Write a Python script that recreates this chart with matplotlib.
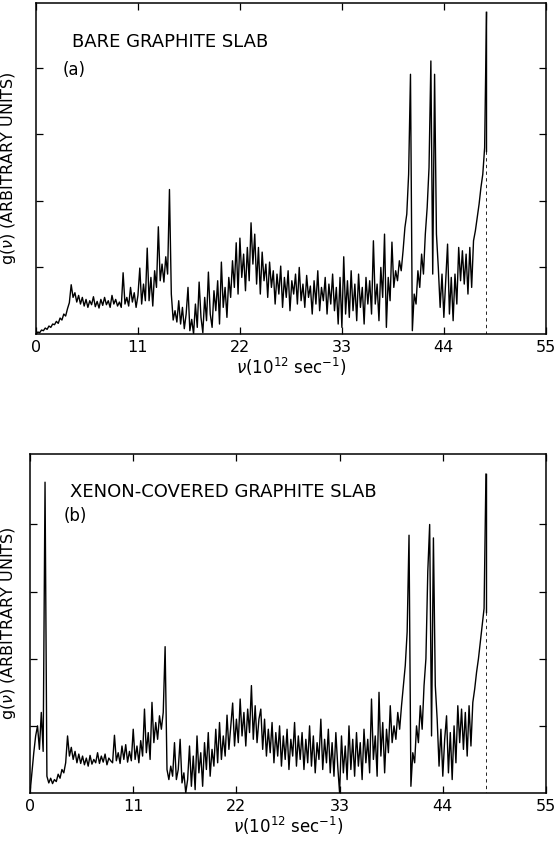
import numpy as np
import matplotlib
matplotlib.use("Agg")
import matplotlib.pyplot as plt

# frequency grid (10^12 sec^-1), step 0.2 from 0 to 48.6
nu_start, nu_stop, nu_step = 0.0, 48.6, 0.2

# panel (a) bare graphite slab, g(nu) in tick units
g_bare = [
    0.00, 0.03, 0.02, 0.06, 0.05,
    0.09, 0.07, 0.12, 0.10, 0.15,
    0.14, 0.19, 0.16, 0.24, 0.21,
    0.30, 0.27, 0.38, 0.47, 0.74,
    0.55, 0.62, 0.48, 0.58, 0.45,
    0.55, 0.42, 0.52, 0.40, 0.50,
    0.44, 0.56, 0.41, 0.49, 0.39,
    0.52, 0.43, 0.55, 0.44, 0.50,
    0.40, 0.58, 0.45, 0.52, 0.42,
    0.48, 0.40, 0.92, 0.45, 0.55,
    0.42, 0.70, 0.48, 0.62, 0.40,
    0.58, 0.99, 0.45, 0.75, 0.50,
    1.29, 0.50, 0.85, 0.42, 0.95,
    0.70, 1.61, 0.80, 1.05, 0.78,
    1.16, 0.90, 2.17, 0.60, 0.21,
    0.35, 0.18, 0.50, 0.15, 0.40,
    0.08, 0.30, 0.70, 0.05, 0.22,
    0.00, 0.45, 0.10, 0.78, 0.25,
    0.02, 0.55, 0.20, 0.93, 0.30,
    0.10, 0.65, 0.35, 0.80, 0.15,
    1.08, 0.40, 0.70, 0.25, 0.85,
    0.55, 1.10, 0.70, 1.37, 0.60,
    1.44, 0.85, 1.20, 0.65, 1.30,
    0.80, 1.67, 1.05, 1.50, 0.75,
    1.30, 0.60, 1.23, 0.80, 1.05,
    0.55, 1.08, 0.70, 0.95, 0.45,
    0.90, 0.60, 1.02, 0.40, 0.85,
    0.55, 0.95, 0.35, 0.80, 0.60,
    0.90, 0.45, 1.00, 0.50, 0.75,
    0.40, 0.88, 0.55, 0.72, 0.30,
    0.80, 0.45, 0.95, 0.35, 0.70,
    0.50, 0.85, 0.30, 0.75, 0.45,
    0.90, 0.35, 0.70, 0.15, 0.85,
    0.10, 1.16, 0.30, 0.80, 0.25,
    0.95, 0.35, 0.75, 0.20, 0.90,
    0.40, 0.70, 0.15, 0.85, 0.45,
    0.80, 0.30, 1.40, 0.45, 0.75,
    0.20, 1.00, 0.55, 1.50, 0.10,
    0.85, 0.50, 1.38, 0.70, 0.95,
    0.80, 1.10, 0.95, 1.25, 1.60,
    1.80, 2.40, 3.90, 0.05, 0.60,
    0.45, 0.95, 0.70, 1.20, 0.90,
    1.50, 1.90, 2.50, 4.10, 0.90,
    3.90, 1.50, 1.00, 0.40, 0.90,
    0.25, 0.80, 1.35, 0.30, 0.85,
    0.20, 0.90, 0.45, 1.30, 0.80,
    1.25, 0.75, 1.20, 0.60, 1.30,
    0.70, 1.40, 1.55, 1.75, 1.95,
    2.20, 2.40, 2.80, 4.83,
]

# panel (b) xenon-covered graphite slab
g_xenon = [
    0.00, 0.30, 0.60, 0.85, 1.00,
    0.65, 1.20, 0.62, 4.63, 0.25,
    0.15, 0.22, 0.14, 0.20, 0.17,
    0.28, 0.22, 0.35, 0.30, 0.45,
    0.85, 0.55, 0.68, 0.50, 0.62,
    0.45, 0.58, 0.44, 0.55, 0.42,
    0.52, 0.40, 0.56, 0.43, 0.50,
    0.45, 0.60, 0.44, 0.55, 0.46,
    0.58, 0.42, 0.52, 0.48, 0.45,
    0.86, 0.48, 0.60, 0.44, 0.70,
    0.50, 0.72, 0.46, 0.62, 0.48,
    0.95, 0.50, 0.70, 0.45, 0.78,
    0.55, 1.25, 0.60, 0.90, 0.50,
    1.35, 0.75, 1.05, 0.80, 1.15,
    0.95, 1.20, 2.18, 0.35, 0.20,
    0.40, 0.25, 0.75, 0.20, 0.35,
    0.80, 0.15, 0.30, 0.00, 0.20,
    0.70, 0.10, 0.55, 0.05, 0.85,
    0.30, 0.60, 0.10, 0.75, 0.35,
    0.90, 0.25, 0.65, 0.40, 0.95,
    0.45, 1.05, 0.50, 0.85, 0.55,
    1.16, 0.65, 1.00, 1.34, 0.70,
    1.10, 0.75, 1.40, 0.85, 1.20,
    0.70, 1.25, 0.90, 1.60, 0.80,
    1.30, 0.75, 1.10, 1.25, 0.65,
    1.10, 0.55, 0.95, 0.60, 1.05,
    0.45, 0.90, 0.55, 1.00, 0.40,
    0.85, 0.50, 0.95, 0.35, 0.80,
    0.55, 1.05, 0.40, 0.85, 0.50,
    0.90, 0.35, 0.80, 0.45, 1.00,
    0.40, 0.85, 0.30, 0.75, 0.50,
    1.10, 0.35, 0.80, 0.45, 0.95,
    0.30, 0.75, 0.25, 0.90, 0.40,
    0.00, 0.85, 0.30, 0.70, 0.20,
    1.00, 0.35, 0.80, 0.25, 0.90,
    0.40, 0.75, 0.20, 0.95, 0.45,
    0.80, 0.30, 1.40, 0.50, 0.85,
    0.25, 1.50, 0.55, 1.05, 0.30,
    0.95, 0.60, 1.30, 0.75, 1.00,
    0.80, 1.20, 0.95, 1.30, 1.60,
    1.90, 2.40, 3.84, 0.10, 0.60,
    0.45, 1.00, 0.75, 1.30, 0.95,
    1.60, 2.00, 3.30, 4.00, 0.85,
    3.80, 1.60, 1.10, 0.40, 0.95,
    0.25, 0.80, 1.15, 0.30, 0.90,
    0.20, 1.00, 0.45, 1.30, 0.75,
    1.25, 0.65, 1.20, 0.55, 1.30,
    0.70, 1.35, 1.55, 1.80, 2.00,
    2.25, 2.50, 2.75, 4.75,
]

# value the trace drops to after the cut-off peak, then dashed to zero
end_drop_bare = 2.75
end_drop_xenon = 2.70

x_ticks = [0, 11, 22, 33, 44, 55]
x_tick_labels = ["0", "11", "22", "33", "44", "55"]
y_ticks = [1, 2, 3, 4]

titles = ["BARE GRAPHITE SLAB", "XENON-COVERED GRAPHITE SLAB"]
panel_tags = ["(a)", "(b)"]

nu = np.arange(nu_start, nu_stop + nu_step / 2, nu_step)

fig = plt.figure(figsize=(5.56, 8.42), dpi=100)
axA = fig.add_axes([0.0647, 0.6033, 0.917, 0.3931])
axB = fig.add_axes([0.054, 0.0582, 0.928, 0.4026])

panels = [
    (axA, g_bare, end_drop_bare, 4.97, titles[0], panel_tags[0], (3.9, 4.38), (2.9, 3.97), -0.036),
    (axB, g_xenon, end_drop_xenon, 5.05, titles[1], panel_tags[1], (4.3, 4.48), (3.6, 4.12), -0.024),
]

for ax, g, drop, ytop, title, tag, tpos, tagpos, ylab_x in panels:
    ax.plot(nu, g, color="black", lw=1.0)
    ax.plot([nu[-1], nu[-1]], [g[-1], drop], color="black", lw=1.0)
    ax.plot([nu[-1], nu[-1]], [drop, 0], color="black", lw=0.6,
            linestyle=(0, (4, 4)))
    ax.set_xlim(0, 55)
    ax.set_ylim(0, ytop)
    ax.set_xticks(x_ticks)
    ax.set_xticklabels(x_tick_labels, fontsize=11.5)
    ax.set_yticks(y_ticks)
    ax.set_yticklabels([])
    ax.tick_params(direction="in", top=True, right=True, length=5, width=0.9, pad=4)
    for s in ax.spines.values():
        s.set_linewidth(1.1)
    ax.text(tpos[0], tpos[1], title, fontsize=13, ha="left", va="center")
    ax.text(tagpos[0], tagpos[1], tag, fontsize=12, ha="left", va="center")
    ax.set_xlabel(r"$\nu$(10$^{12}$ sec$^{-1}$)", fontsize=12, labelpad=1)
    ax.set_ylabel(r"g($\nu$) (ARBITRARY UNITS)", fontsize=11.5)
    ax.yaxis.set_label_coords(ylab_x, 0.5)

fig.savefig("out.png", dpi=100)
